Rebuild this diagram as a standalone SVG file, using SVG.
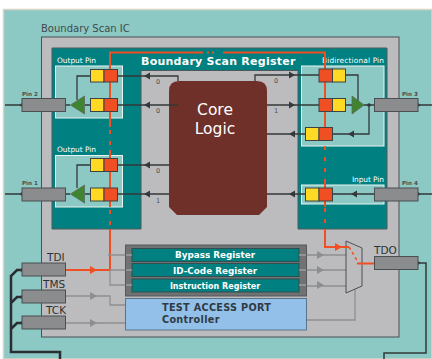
<svg xmlns="http://www.w3.org/2000/svg" width="432" height="359" viewBox="0 0 432 359">
<defs>
<style>
text{font-family:"DejaVu Sans","Liberation Sans",sans-serif}
.pinbox{fill:#8a8c8e;stroke:#4a4f52;stroke-width:1}
.yl{fill:#ffd924;stroke:#3c4242;stroke-width:1}
.rd{fill:#f04e23;stroke:#3c4242;stroke-width:1}
.wb{fill:#8cc8c4;stroke:#e8f4f2;stroke-width:1}
.bk{fill:none;stroke:#33383a;stroke-width:1.3}
.tri{fill:#3f8530;stroke:#5a6a5a;stroke-width:.8}
.gy{fill:none;stroke:#8c8e90;stroke-width:1.3}
.or{fill:none;stroke:#f04e23;stroke-width:2}
.ord{fill:none;stroke:#f04e23;stroke-width:2;stroke-dasharray:4 7}
.ah{fill:#33383a}
.ag{fill:#8c8e90}
.lb{font-size:7.4px;fill:#ffffff}
.pl{font-size:5.6px;font-weight:bold;fill:#4a4f52}
.n{font-size:6.5px;fill:#4a4f52}
.sig{font-size:10.5px;fill:#2c3234}
.reg{font-size:8.8px;font-weight:bold;fill:#ffffff;text-anchor:middle}
</style>
</defs>
<g id="background">
<rect width="432" height="359" fill="#ffffff"/>
<rect x="3.500" y="9.500" width="428.500" height="349.500" fill="#8cc8c4" stroke="#d8d4c4" stroke-width="1.500"/>
<text x="41" y="32" font-size="10" fill="#3f4a4c">Boundary Scan IC</text>
<rect x="41.500" y="37" width="357.500" height="300" fill="#bcbcbe" stroke="#4a4f52" stroke-width="1"/>
<path d="M52 48H387V229H298V70.500H141V229H52Z" fill="#008080" stroke="#4a5a5c" stroke-width="1"/>
<text x="141" y="65" font-size="11" font-weight="bold" fill="#ffffff" letter-spacing=".25">Boundary Scan Register</text>
</g>
<g id="core">
<path d="M179 81H257Q267 81 267 91V207L259 215H177L169 207V91Q169 81 179 81Z" fill="#70302a"/>
<text x="215" y="115" font-size="15.500" fill="#ffffff" text-anchor="middle">Core</text>
<text x="215" y="134" font-size="15.500" fill="#ffffff" text-anchor="middle">Logic</text>
</g>
<g id="pin-frames">
<rect class="wb" x="55.500" y="66" width="67" height="52"/>
<rect class="wb" x="55.500" y="155.500" width="67" height="51.500"/>
<rect class="wb" x="301.500" y="66" width="82.500" height="80"/>
<rect class="wb" x="301.500" y="185" width="82.500" height="19"/>
<text class="lb" x="57" y="63">Output Pin</text>
<text class="lb" x="57" y="152">Output Pin</text>
<text class="lb" x="322" y="63" textLength="62">Bidirectional Pin</text>
<text class="lb" x="352" y="182" textLength="32">Input Pin</text>
</g>
<g id="connectors">
<path class="or" d="M110 127V52.500H203M223 52.500H325V127"/>
<path class="or" d="M207 52.500H209M212 52.500H214"/>
<path class="or" d="M110 150V207M325 180V207"/>
<path class="ord" d="M110 130V150M110 210V229"/>
<path class="ord" d="M325 146V180M325 208V229"/>
<path class="or" d="M110 229V270H66"/>
<path class="or" d="M325 229V247H346"/>
<path class="bk" d="M178 81V76H117.500M178 105H117.500M169 165H117.500M169 194H117.500M90.500 76H77V100M90.500 105H85M90.500 165H77V188M90.500 194H85M65 105H70M65 194H70"/>
<path class="bk" d="M255 81V75H319M267 105H319M345 75H358V102M345 105H352M364 105H374M369 105V134H332M305 134H267M267 194H305M332 194H374M418 105H432M418 194H432M5 105H22M5 194H22"/>
<path class="ah" d="M144 76l6 -3.500v7zM144 105l6 -3.500v7zM144 165l6 -3.500v7zM144 194l6 -3.500v7zM295 75l-6 -3.500v7zM295 105l-6 -3.500v7zM289 134l6 -3.500v7zM289 194l6 -3.500v7zM348 134l6 -3.500v7zM351 194l6 -3.500v7z"/>
<path class="ah" d="M19.500 105l3 -2.500v5zM19.500 194l3 -2.500v5zM420.500 105l-3 -2.500v5zM420.500 194l-3 -2.500v5zM420.500 263l-3 -2.500v5zM19.500 270l3 -2.500v5zM19.500 297l3 -2.500v5zM19.500 323l3 -2.500v5z"/>
<circle cx="369" cy="105" r="1.800" fill="#33383a"/>
<path d="M22 270H17L11 276V352H60V359M22 297H17L11 303M22 323H17L11 329" fill="none" stroke="#2a2e30" stroke-width="2.500"/>
<path d="M418 263H426V353H384V359" fill="none" stroke="#33383a" stroke-width="1.500"/>
<path class="gy" d="M65 296H110V305H125M65 323H125M108 255H125M110 270H125M110 270V285H125"/>
<path class="gy" d="M307 255H346M307 270H346M307 286H346M307 320H355V289"/>
<path class="ag" d="M90 292l7 4 -7 4zM90 319l7 4 -7 4zM317 251l7 4 -7 4zM317 266l7 4 -7 4zM317 281l7 4 -7 4z"/>
<path d="M90 266l7 4 -7 4z" fill="#f04e23"/>
<path d="M335 243l7 4 -7 4z" fill="#f04e23"/>
</g>
<g id="cells">
<rect class="yl" x="90.500" y="69.500" width="13.500" height="12.500"/><rect class="rd" x="104" y="69.500" width="13.500" height="12.500"/>
<rect class="yl" x="90.500" y="98.500" width="13.500" height="13"/><rect class="rd" x="104" y="98.500" width="13.500" height="13"/>
<rect class="yl" x="90.500" y="158.500" width="13.500" height="13"/><rect class="rd" x="104" y="158.500" width="13.500" height="13"/>
<rect class="yl" x="90.500" y="188" width="13.500" height="13"/><rect class="rd" x="104" y="188" width="13.500" height="13"/>
<rect class="rd" x="319" y="69" width="13.500" height="13"/><rect class="yl" x="332.500" y="69" width="13" height="13"/>
<rect class="rd" x="319" y="98.500" width="13.500" height="13"/><rect class="yl" x="332.500" y="98.500" width="13" height="13"/>
<rect class="yl" x="305.500" y="127.500" width="13.500" height="13"/><rect class="rd" x="319" y="127.500" width="13.500" height="13"/>
<rect class="yl" x="305.500" y="188" width="13.500" height="13"/><rect class="rd" x="319" y="188" width="13.500" height="13"/>
</g>
<g id="buffers">
<path class="tri" d="M70.500 105L84.500 96V114Z"/>
<path class="tri" d="M70.500 194L84.500 185V203Z"/>
<path class="tri" d="M352 96L364 105L352 114Z"/>
</g>
<g id="bits">
<text class="n" x="156" y="84">0</text>
<text class="n" x="156" y="113">0</text>
<text class="n" x="156" y="173">0</text>
<text class="n" x="156" y="203">1</text>
<text class="n" x="274" y="83">0</text>
<text class="n" x="274" y="113">1</text>
</g>
<g id="pin-2"><rect class="pinbox" x="22" y="98.500" width="43.500" height="13"/><text class="pl" x="22" y="96">Pin 2</text></g>
<g id="pin-1"><rect class="pinbox" x="22" y="188" width="43.500" height="13"/><text class="pl" x="22" y="185">Pin 1</text></g>
<g id="pin-3"><rect class="pinbox" x="374.500" y="98.500" width="43.500" height="13"/><text class="pl" x="402" y="96">Pin 3</text></g>
<g id="pin-4"><rect class="pinbox" x="374.500" y="188" width="43.500" height="13"/><text class="pl" x="402" y="185">Pin 4</text></g>
<g id="tdi"><rect class="pinbox" x="22" y="263" width="43.500" height="13"/><text class="sig" x="47" y="261">TDI</text></g>
<g id="tms"><rect class="pinbox" x="22" y="290" width="43.500" height="13"/><text class="sig" x="43" y="288">TMS</text></g>
<g id="tck"><rect class="pinbox" x="22" y="316" width="43.500" height="13"/><text class="sig" x="46" y="314">TCK</text></g>
<g id="tdo"><rect class="pinbox" x="374.500" y="256.500" width="43.500" height="13"/><text class="sig" x="374" y="254">TDO</text></g>
<g id="registers">
<rect x="125.500" y="245" width="181" height="51" fill="#707274" stroke="#55585a"/>
<rect x="132" y="248.500" width="167" height="13" fill="#008080" stroke="#2f4f50"/>
<rect x="132" y="263.500" width="167" height="13" fill="#008080" stroke="#2f4f50"/>
<rect x="132" y="279" width="167" height="13" fill="#008080" stroke="#2f4f50"/>
<path d="M126 255H132M126 270H132M126 285H132M299 255H306M299 270H306M299 285H306" stroke="#b4b4b6" stroke-width="1.200" fill="none"/>
<text class="reg" x="215" y="258">Bypass Register</text>
<text class="reg" x="215" y="273.500">ID-Code Register</text>
<text class="reg" x="215" y="289" style="font-size:8px">Instruction Register</text>
</g>
<g id="tap">
<rect x="125.500" y="298.500" width="181" height="31.500" fill="#93c0e8" stroke="#5a7488" stroke-width="1"/>
<text x="162" y="311" font-size="9.700" font-weight="bold" fill="#2f3a44" letter-spacing=".3">TEST ACCESS PORT</text>
<text x="162" y="323" font-size="9.700" font-weight="bold" fill="#2f3a44" letter-spacing=".3">Controller</text>
</g>
<g id="mux">
<path d="M346 241L362 248V286L346 293Z" fill="#bcbcbe" stroke="#4a4f52" stroke-width="1"/>
<path d="M349 247L358 262" fill="none" stroke="#f04e23" stroke-width="1.500" stroke-dasharray="3 3"/>
<path d="M357 263.500H374" fill="none" stroke="#f04e23" stroke-width="2"/>
<path d="M340 247H349" fill="none" stroke="#f04e23" stroke-width="2"/>
</g>
</svg>
